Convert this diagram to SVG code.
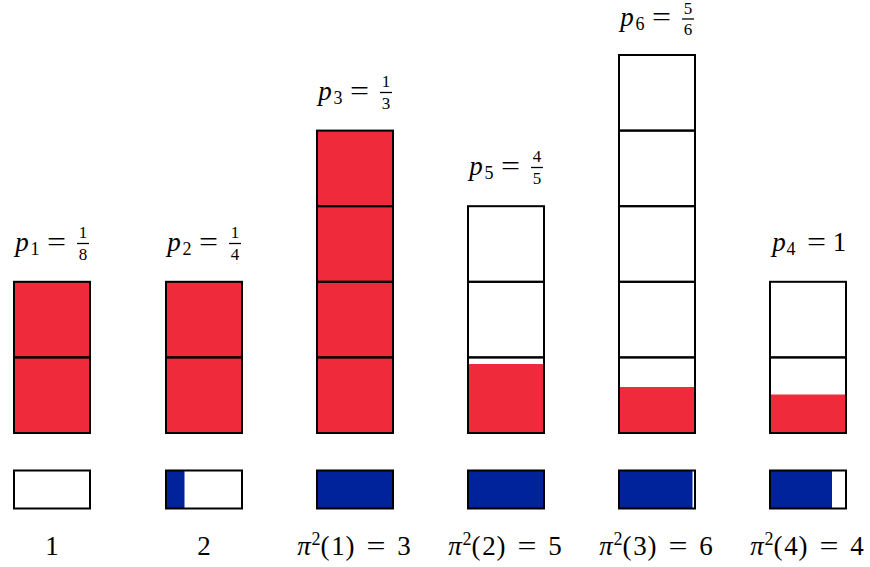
<svg xmlns="http://www.w3.org/2000/svg" width="870" height="567" viewBox="0 0 870 567">
<defs>
<style>
.bg{fill:#ffffff}
.cell{fill:none;stroke:#000;stroke-width:2}
.red{fill:#EE2A3B}
.blue{fill:#00239B}
.t{font-family:"Liberation Serif","Times New Roman",serif;font-size:27px;fill:#000;text-anchor:middle}
.i{font-style:italic}
.sub{font-size:18px}
.fr{font-size:17px}
.bar{stroke:#000;stroke-width:1.3}
</style>
</defs>
<rect class="bg" x="0" y="0" width="870" height="567"/>

<g id="col1">
<rect class="red" x="14" y="281.8" width="76" height="151.2"/>
<rect class="cell" x="14" y="281.8" width="76" height="75.6"/>
<rect class="cell" x="14" y="357.4" width="76" height="75.6"/>
<rect class="cell" x="14" y="470.5" width="76" height="38"/>
<text class="t i" x="22" y="251">p</text>
<text class="t sub" x="35" y="255">1</text>
<text class="t" x="56.5" y="251" textLength="19" lengthAdjust="spacingAndGlyphs">=</text>
<text class="t fr" x="83" y="238">1</text>
<line class="bar" x1="77" y1="243.5" x2="89" y2="243.5"/>
<text class="t fr" x="83" y="260">8</text>
<text class="t" x="52" y="555">1</text>
</g>

<g id="col2">
<rect class="red" x="166" y="281.8" width="76" height="151.2"/>
<rect class="cell" x="166" y="281.8" width="76" height="75.6"/>
<rect class="cell" x="166" y="357.4" width="76" height="75.6"/>
<rect class="blue" x="166" y="470.5" width="18.5" height="38"/>
<rect class="cell" x="166" y="470.5" width="76" height="38"/>
<text class="t i" x="174" y="251">p</text>
<text class="t sub" x="187" y="255">2</text>
<text class="t" x="208.5" y="251" textLength="19" lengthAdjust="spacingAndGlyphs">=</text>
<text class="t fr" x="235" y="238">1</text>
<line class="bar" x1="229" y1="243.5" x2="241" y2="243.5"/>
<text class="t fr" x="235" y="260">4</text>
<text class="t" x="204" y="555">2</text>
</g>

<g id="col3">
<rect class="red" x="317" y="130.6" width="76" height="302.4"/>
<rect class="cell" x="317" y="130.6" width="76" height="75.6"/>
<rect class="cell" x="317" y="206.2" width="76" height="75.6"/>
<rect class="cell" x="317" y="281.8" width="76" height="75.6"/>
<rect class="cell" x="317" y="357.4" width="76" height="75.6"/>
<rect class="blue" x="317" y="470.5" width="76" height="38"/>
<rect class="cell" x="317" y="470.5" width="76" height="38"/>
<text class="t i" x="325" y="100">p</text>
<text class="t sub" x="338" y="104">3</text>
<text class="t" x="359.5" y="100" textLength="19" lengthAdjust="spacingAndGlyphs">=</text>
<text class="t fr" x="386" y="87">1</text>
<line class="bar" x1="380" y1="92.5" x2="392" y2="92.5"/>
<text class="t fr" x="386" y="109">3</text>
<text class="t" y="555"><tspan class="i" x="304">π</tspan><tspan class="sub" x="316" y="545">2</tspan><tspan x="325 338 350" y="555">(1)</tspan><tspan x="376" textLength="19" lengthAdjust="spacingAndGlyphs">=</tspan><tspan x="404">3</tspan></text>
</g>

<g id="col4">
<rect class="red" x="468" y="364" width="76" height="69"/>
<rect class="cell" x="468" y="206.2" width="76" height="75.6"/>
<rect class="cell" x="468" y="281.8" width="76" height="75.6"/>
<rect class="cell" x="468" y="357.4" width="76" height="75.6"/>
<rect class="blue" x="468" y="470.5" width="76" height="38"/>
<rect class="cell" x="468" y="470.5" width="76" height="38"/>
<text class="t i" x="476" y="175">p</text>
<text class="t sub" x="489" y="179">5</text>
<text class="t" x="510.5" y="175" textLength="19" lengthAdjust="spacingAndGlyphs">=</text>
<text class="t fr" x="537" y="162">4</text>
<line class="bar" x1="531" y1="167.5" x2="543" y2="167.5"/>
<text class="t fr" x="537" y="184">5</text>
<text class="t" y="555"><tspan class="i" x="455">π</tspan><tspan class="sub" x="467" y="545">2</tspan><tspan x="476 489 501" y="555">(2)</tspan><tspan x="527" textLength="19" lengthAdjust="spacingAndGlyphs">=</tspan><tspan x="555">5</tspan></text>
</g>

<g id="col5">
<rect class="red" x="619" y="387" width="76" height="46"/>
<rect class="cell" x="619" y="55" width="76" height="75.6"/>
<rect class="cell" x="619" y="130.6" width="76" height="75.6"/>
<rect class="cell" x="619" y="206.2" width="76" height="75.6"/>
<rect class="cell" x="619" y="281.8" width="76" height="75.6"/>
<rect class="cell" x="619" y="357.4" width="76" height="75.6"/>
<rect class="blue" x="619" y="470.5" width="73.5" height="38"/>
<rect class="cell" x="619" y="470.5" width="76" height="38"/>
<text class="t i" x="627" y="26">p</text>
<text class="t sub" x="640" y="30">6</text>
<text class="t" x="661.5" y="26" textLength="19" lengthAdjust="spacingAndGlyphs">=</text>
<text class="t fr" x="688" y="14">5</text>
<line class="bar" x1="682" y1="19" x2="694" y2="19"/>
<text class="t fr" x="688" y="35">6</text>
<text class="t" y="555"><tspan class="i" x="606">π</tspan><tspan class="sub" x="618" y="545">2</tspan><tspan x="627 640 652" y="555">(3)</tspan><tspan x="678" textLength="19" lengthAdjust="spacingAndGlyphs">=</tspan><tspan x="706">6</tspan></text>
</g>

<g id="col6">
<rect class="red" x="770" y="394.5" width="76" height="38.5"/>
<rect class="cell" x="770" y="281.8" width="76" height="75.6"/>
<rect class="cell" x="770" y="357.4" width="76" height="75.6"/>
<rect class="blue" x="770" y="470.5" width="62" height="38"/>
<rect class="cell" x="770" y="470.5" width="76" height="38"/>
<text class="t i" x="779" y="251">p</text>
<text class="t sub" x="791" y="255">4</text>
<text class="t" x="816.5" y="251" textLength="19" lengthAdjust="spacingAndGlyphs">=</text>
<text class="t" x="839.5" y="251">1</text>
<text class="t" y="555"><tspan class="i" x="757">π</tspan><tspan class="sub" x="769" y="545">2</tspan><tspan x="778 791 803" y="555">(4)</tspan><tspan x="829" textLength="19" lengthAdjust="spacingAndGlyphs">=</tspan><tspan x="857">4</tspan></text>
</g>

<g id="connectors"></g>
</svg>
